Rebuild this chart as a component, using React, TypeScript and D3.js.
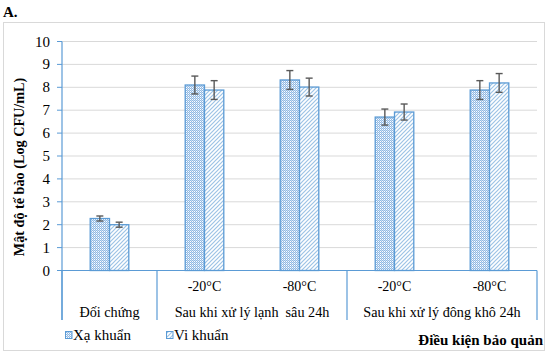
import React from "react";
import * as d3 from "d3";

const subCategories = ["Đối chứng", "lanh-20", "lanh-80", "dk-20", "dk-80"];
const subLabels = ["", "-20°C", "-80°C", "-20°C", "-80°C"];
const groupLabels = ["Đối chứng", "Sau khi xử lý lạnh  sâu 24h", "Sau khi xử lý đông khô 24h"];
const groupSpans = [[0, 1], [1, 3], [3, 5]];
const seriesNames = ["Xạ khuẩn", "Vi khuẩn"];
const xaKhuan = [2.27, 8.1, 8.32, 6.7, 7.88];
const xaKhuanErr = [0.11, 0.39, 0.41, 0.35, 0.41];
const viKhuan = [2.0, 7.88, 8.01, 6.92, 8.19];
const viKhuanErr = [0.11, 0.41, 0.39, 0.35, 0.41];
const yTicks = [0, 1, 2, 3, 4, 5, 6, 7, 8, 9, 10];

const FONT = "'Liberation Serif', 'Times New Roman', serif";
const BLUE = "#5B9BD5";

export default function App() {
  const W = 553, H = 355;
  const left = 62, right = 537, top = 41.5, bottom = 270.5;
  const x0 = d3.scaleBand<string>().domain(subCategories).range([left, right]).padding(0);
  const barW = 19.3;
  const x1 = d3.scaleBand<string>().domain(seriesNames).range([0, barW * 2]).padding(0);
  const y = d3.scaleLinear().domain([0, 10]).range([bottom, top]);
  const step = x0.step();
  const offset = (step - barW * 2) / 2;
  const series = [
    { name: seriesNames[0], values: xaKhuan, errs: xaKhuanErr, fill: "url(#patDots)" },
    { name: seriesNames[1], values: viKhuan, errs: viKhuanErr, fill: "url(#patHatch)" },
  ];
  const sepIdx = [0, 1, 3, 5];

  return (
    <svg width={W} height={H} style={{ position: "absolute", left: 0, top: 0, fontFamily: FONT }}>
      <defs>
        <pattern id="patDots" width="2" height="2" patternUnits="userSpaceOnUse">
          <rect width="2" height="2" fill="#ffffff" />
          <rect x="0" y="0" width="1" height="1" fill="#8fb8e3" />
          <rect x="1" y="1" width="1" height="1" fill="#8fb8e3" />
          <rect x="1" y="0" width="1" height="1" fill="#c9ddf2" />
        </pattern>
        <pattern id="patHatch" width="4" height="4" patternUnits="userSpaceOnUse">
          <rect width="4" height="4" fill="#ffffff" />
          <path d="M-1,1 L1,-1 M0,4 L4,0 M3,5 L5,3" stroke="#9dc3e6" strokeWidth="1.2" />
        </pattern>
      </defs>
      <rect x={0} y={0} width={W} height={H} fill="#fff" />
      <rect x={3.5} y={22.5} width={541} height={328} fill="none" stroke="#d9d9d9" strokeWidth={1} />
      <text x={3} y={17} fontSize={15} fontWeight="bold">A.</text>

      {yTicks.map((t) => (
        <g key={t}>
          {t > 0 && <line x1={left} x2={right} y1={y(t)} y2={y(t)} stroke="#d9d9d9" strokeWidth={1} />}
          <line x1={left - 5} x2={left} y1={y(t)} y2={y(t)} stroke={BLUE} strokeWidth={1} />
          <text x={50} y={y(t) + 5} fontSize={15} textAnchor="end">{t}</text>
        </g>
      ))}

      {series.map((s) =>
        subCategories.map((c, i) => {
          const bx = (x0(c) as number) + offset + (x1(s.name) as number);
          return (
            <rect key={s.name + c} x={bx} y={y(s.values[i])} width={barW} height={y(0) - y(s.values[i])}
              fill={s.fill} stroke={BLUE} strokeWidth={1.3} />
          );
        })
      )}
      {series.map((s) =>
        subCategories.map((c, i) => {
          const cx = (x0(c) as number) + offset + (x1(s.name) as number) + barW / 2;
          const hi = y(s.values[i] + s.errs[i]);
          const lo = y(s.values[i] - s.errs[i]);
          return (
            <g key={"e" + s.name + c} stroke="#595959" strokeWidth={1.4}>
              <line x1={cx} x2={cx} y1={hi} y2={lo} />
              <line x1={cx - 3.5} x2={cx + 3.5} y1={hi} y2={hi} />
              <line x1={cx - 3.5} x2={cx + 3.5} y1={lo} y2={lo} />
            </g>
          );
        })
      )}

      <line x1={left} x2={left} y1={top} y2={320} stroke={BLUE} strokeWidth={1.2} />
      <line x1={left} x2={right} y1={bottom} y2={bottom} stroke={BLUE} strokeWidth={1.2} />
      {sepIdx.map((k) => {
        const xx = k < subCategories.length ? (x0(subCategories[k]) as number) : right;
        return <line key={k} x1={xx} x2={xx} y1={bottom} y2={320} stroke={BLUE} strokeWidth={1.2} />;
      })}

      {subCategories.map((c, i) =>
        subLabels[i] ? (
          <text key={c} x={(x0(c) as number) + step / 2} y={291} fontSize={14} textAnchor="middle">{subLabels[i]}</text>
        ) : null
      )}
      {groupLabels.map((g, i) => {
        const [a, b] = groupSpans[i];
        const xa = x0(subCategories[a]) as number;
        const cx = xa + ((b - a) * step) / 2;
        return (
          <text key={g} x={cx} y={317} fontSize={14.2} textAnchor="middle" style={{ whiteSpace: "pre" }}>{g}</text>
        );
      })}

      <text transform={`translate(24,167) rotate(-90)`} fontSize={14.2} fontWeight="bold" textAnchor="middle">
        Mật độ tế bào (Log CFU/mL)
      </text>

      <rect x={65.5} y={331.5} width={6.5} height={7} fill="url(#patDots)" stroke={BLUE} strokeWidth={1} />
      <text x={73} y={340} fontSize={15}>{seriesNames[0]}</text>
      <rect x={166.5} y={331.5} width={6.5} height={7} fill="url(#patHatch)" stroke={BLUE} strokeWidth={1} />
      <text x={174} y={340} fontSize={15}>{seriesNames[1]}</text>

      <text x={543} y={345} fontSize={15} fontWeight="bold" textAnchor="end">Điều kiện bảo quản</text>
    </svg>
  );
}
